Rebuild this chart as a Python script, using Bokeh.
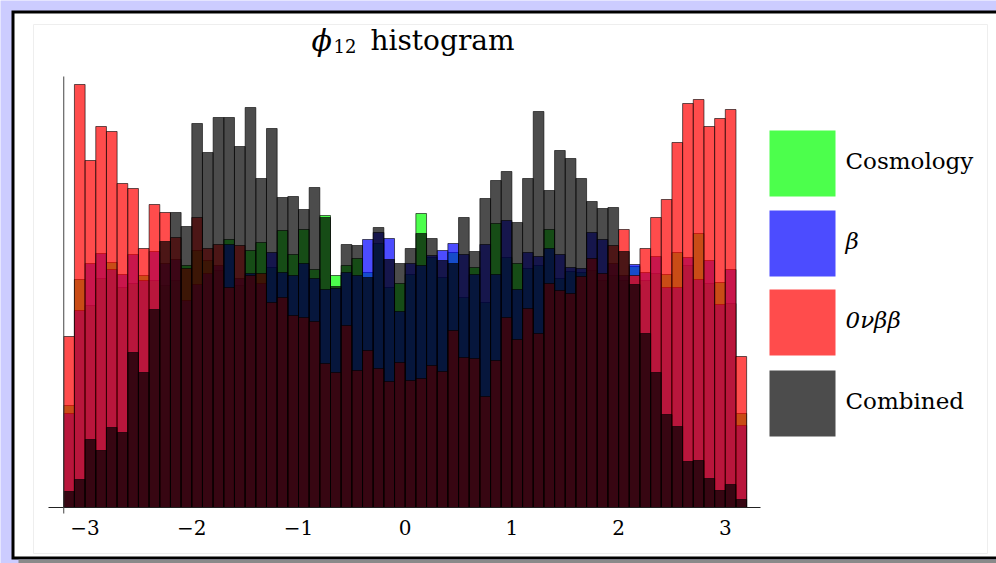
import numpy as np
from bokeh.plotting import figure
from bokeh.models import Range1d, LinearAxis, FixedTicker, ColumnDataSource
from bokeh.core.properties import value
from bokeh.embed import file_html
from bokeh.resources import INLINE

# ---------------- data ----------------
bin_start = -3.2
bin_width = 0.1

cosmology = [102, 228, 202, 229, 245, 220, 224, 232, 227, 222, 227, 242, 257, 247, 237, 268,
             222, 257, 265, 240, 277, 253, 278, 238, 292, 232, 242, 249, 235, 264, 220, 224,
             233, 294, 250, 230, 255, 210, 240, 205, 284, 250, 244, 239, 242, 278, 229, 236,
             235, 237, 227, 232, 227, 241, 227, 234, 233, 255, 242, 274, 224, 225, 204, 94]
beta = [94, 197, 244, 254, 238, 233, 253, 227, 256, 244, 248, 207, 223, 234, 242, 263,
        229, 234, 224, 255, 235, 232, 244, 229, 218, 219, 235, 232, 268, 275, 269, 196,
        244, 242, 252, 257, 264, 253, 233, 263, 233, 287, 218, 255, 251, 259, 253, 240,
        239, 275, 268, 244, 232, 243, 235, 251, 220, 220, 250, 228, 247, 203, 238, 82]
zero_nu_bb = [171, 423, 347, 381, 376, 324, 319, 259, 303, 295, 270, 239, 290, 259, 263, 220,
              262, 232, 234, 205, 210, 192, 190, 186, 144, 135, 182, 137, 157, 139, 126, 145,
              127, 129, 142, 136, 177, 150, 149, 111, 147, 190, 168, 199, 174, 224, 217, 214,
              231, 249, 234, 262, 278, 232, 259, 290, 308, 365, 404, 408, 381, 389, 398, 151]
combined = [16, 28, 68, 57, 80, 75, 155, 135, 198, 266, 295, 281, 384, 355, 390, 390,
            361, 400, 329, 379, 310, 311, 298, 320, 290, 221, 263, 262, 230, 280, 248, 244,
            259, 274, 269, 247, 244, 290, 256, 309, 327, 336, 285, 329, 396, 317, 357, 349,
            329, 306, 299, 300, 256, 223, 174, 135, 93, 81, 46, 47, 29, 17, 23, 8]

series_names = ["Cosmology", "β", "0νββ", "Combined"]
series_styles = ["normal", "italic", "italic", "normal"]
series_colors = ["#00ff00", "#0000ff", "#ff0000", "#000000"]
x_ticks = [-3, -2, -1, 0, 1, 2, 3]
x_tick_labels = ["−3", "−2", "−1", "0", "1", "2", "3"]
title_symbol = "ϕ"
title_sub = "12"
title_word = "histogram"

# ---------------- layout helpers ----------------
W, H = 996, 563
X0PX, XSCALE = 404.7, 106.7      # pixel of x=0, pixels per unit
BASE = 507                        # pixel row of y=0 (1 unit = 1 px vertically)
TXT = -10                         # empirical baseline correction for text glyphs

def px_x(px):
    return (px - X0PX) / XSCALE

def px_y(py):
    return BASE - py

n = len(combined)
edges = bin_start + bin_width * np.arange(n + 1)
lefts, rights = edges[:-1], edges[1:]

p = figure(width=W, height=H, output_backend="svg", toolbar_location=None,
           x_range=Range1d(px_x(0), px_x(W)), y_range=Range1d(px_y(H), px_y(0)),
           x_axis_type=None, y_axis_type=None,
           min_border=0, min_border_left=0, min_border_right=0,
           min_border_top=0, min_border_bottom=0,
           outline_line_color=None,
           background_fill_color="#ccccff", border_fill_color="#ccccff")

# page frame decoration
p.quad(left=px_x(11), right=px_x(1010), top=px_y(10), bottom=px_y(559),
       fill_color="black", line_color=None)
p.quad(left=px_x(18), right=px_x(1010), top=px_y(559), bottom=px_y(570),
       fill_color="#8a8a8a", line_color=None)
p.quad(left=px_x(14), right=px_x(1010), top=px_y(13), bottom=px_y(556),
       fill_color="white", line_color=None)
p.quad(left=px_x(33), right=px_x(987), top=px_y(24), bottom=px_y(553),
       fill_color=None, line_color="#eeeeee", line_width=1)

# histograms (drawn in order: Cosmology, beta, 0vbb, Combined)
for vals, col in zip([cosmology, beta, zero_nu_bb, combined], series_colors):
    p.quad(left=lefts, right=rights, bottom=0, top=vals,
           fill_color=col, fill_alpha=0.7,
           line_color="black", line_alpha=0.6, line_width=1)

# axis lines
p.segment(x0=[px_x(48)], x1=[px_x(760)], y0=[0], y1=[0], line_color="#222222", line_width=1)
p.segment(x0=[bin_start], x1=[bin_start], y0=[px_y(513)], y1=[px_y(76)],
          line_color="#444444", line_width=1)

xaxis = LinearAxis(fixed_location=0,
                   ticker=FixedTicker(ticks=x_ticks, minor_ticks=[]),
                   major_label_overrides={t: l for t, l in zip(x_ticks, x_tick_labels)},
                   axis_line_color=None, major_tick_line_color=None,
                   minor_tick_line_color=None, major_tick_in=0, major_tick_out=0,
                   major_label_standoff=12,
                   major_label_text_font="DejaVu Serif",
                   major_label_text_font_size="20px",
                   major_label_text_color="black")
p.add_layout(xaxis, "below")

# legend (manual)
sq_tops = [130, 210, 289, 370]
for top, col in zip(sq_tops, series_colors):
    p.quad(left=px_x(769), right=px_x(835), top=px_y(top), bottom=px_y(top + 66),
           fill_color=col, fill_alpha=0.7, line_color=None)
leg_src = ColumnDataSource(dict(x=[px_x(845)] * 4,
                                y=[px_y(t + 40 + TXT) for t in sq_tops],
                                text=series_names, style=series_styles))
p.text(x="x", y="y", text="text", text_font_style="style", source=leg_src,
       text_font=value("DejaVu Serif"), text_font_size="23px",
       text_baseline="alphabetic", text_align="left", text_color="black")

# title
p.text(x=[px_x(311)], y=[px_y(50 + TXT)], text=[title_symbol], text_font=value("DejaVu Serif"),
       text_font_style="italic", text_font_size="30px", text_baseline="alphabetic",
       text_color="black")
p.text(x=[px_x(333)], y=[px_y(55 + TXT)], text=[title_sub], text_font=value("DejaVu Serif"),
       text_font_size="18px", text_baseline="alphabetic", text_color="black")
p.text(x=[px_x(370)], y=[px_y(50 + TXT)], text=[title_word], text_font=value("DejaVu Serif"),
       text_font_size="28px", text_baseline="alphabetic", text_color="black")

open("out.html", "w").write(file_html(p, INLINE))
